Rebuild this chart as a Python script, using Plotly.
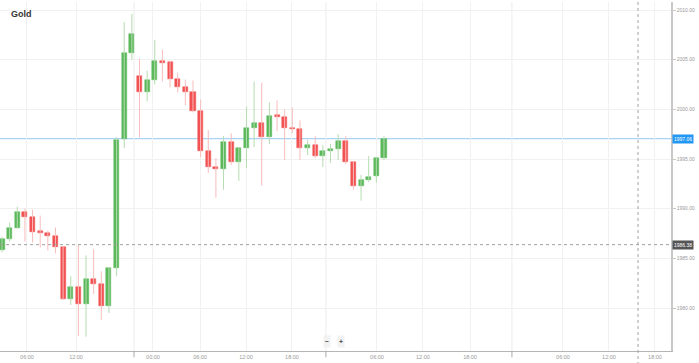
import plotly.graph_objects as go

# ---- data (hourly Gold candles) ----
opens = [1985.8, 1986.9, 1988.1, 1989.7, 1989.2, 1987.8, 1987.6, 1987.2, 1986.1, 1980.9,
         1982.1, 1980.4, 1982.9, 1982.4, 1980.2, 1984.0, 1997.0, 2005.7, 2003.4, 2001.7,
         2003.0, 2004.9, 2004.8, 2003.1, 2002.3, 2001.7, 1999.8, 1995.8, 1994.2, 1994.0,
         1996.7, 1994.7, 1996.1, 1998.1, 1998.6, 1997.2, 1999.4, 1999.2, 1998.1, 1998.0,
         1996.1, 1996.4, 1995.3, 1995.8, 1996.0, 1996.8, 1994.7, 1992.3, 1992.9, 1993.3,
         1995.1]
highs = [1987.2, 1988.6, 1990.2, 1990.0, 1989.9, 1989.3, 1987.8, 1988.1, 1986.2, 1983.2,
         1986.4, 1985.3, 1985.9, 1983.7, 1984.1, 1997.2, 2008.8, 2009.6, 2005.1, 2003.9,
         2007.0, 2006.0, 2004.9, 2003.7, 2003.0, 2002.9, 2001.0, 1997.9, 1995.1, 1997.3,
         1997.6, 1996.2, 2000.3, 2002.8, 2002.7, 2000.7, 2000.9, 2000.0, 2000.2, 1998.9,
         1996.9, 1997.3, 1996.4, 1996.5, 1997.5, 1997.3, 1994.8, 1993.4, 1995.3, 1995.2,
         1997.3]
lows = [1985.6, 1986.7, 1988.0, 1986.7, 1986.6, 1986.1, 1985.8, 1985.5, 1980.8, 1980.3,
        1977.2, 1977.1, 1981.4, 1978.8, 1979.5, 1983.2, 1996.1, 2005.0, 1997.2, 2000.8,
        2002.5, 2002.8, 2002.2, 2001.7, 2000.4, 1999.7, 1995.2, 1993.6, 1991.1, 1991.9,
        1994.4, 1992.8, 1994.1, 1996.2, 1992.3, 1996.5, 1997.8, 1994.9, 1997.6, 1994.9,
        1995.4, 1995.1, 1994.2, 1994.6, 1994.9, 1994.5, 1991.9, 1990.8, 1992.7, 1992.6,
        1994.9]
closes = [1986.9, 1988.1, 1989.7, 1989.2, 1987.7, 1987.6, 1987.2, 1986.1, 1980.9, 1982.1,
          1980.4, 1982.9, 1982.4, 1980.2, 1984.0, 1996.9, 2005.7, 2007.6, 2001.7, 2003.0,
          2004.9, 2004.7, 2003.1, 2002.3, 2001.7, 1999.8, 1995.8, 1994.2, 1994.0, 1996.7,
          1994.7, 1996.1, 1998.1, 1998.6, 1997.2, 1999.3, 1999.2, 1998.1, 1998.0, 1996.1,
          1996.4, 1995.3, 1995.8, 1996.0, 1996.8, 1994.7, 1992.3, 1992.9, 1993.2, 1995.1,
          1997.0]

# axis labels (positions in candle-index units)
hour_tick_pos = [3.27, 9.69, 19.76, 25.92, 31.94, 37.96, 49.08, 55.10, 61.26, 73.43, 79.45, 85.47]
hour_tick_text = ["06:00", "12:00", "00:00", "06:00", "12:00", "18:00",
                  "06:00", "12:00", "18:00", "06:00", "12:00", "18:00"]
day_sep_pos = [17.28, 42.40, 66.75]
day_sep_text = ["30/10", "31/10", "Nov 01"]
y_ticks = [1980, 1985, 1990, 1995, 2000, 2005, 2010]
last_price = 1997.06
marker_price = 1986.38
crosshair_pos = 83.25

GREEN = "#5cb85c"
RED = "#f25252"
GREEN_W = "#b5dcb0"
RED_W = "#f8bcbc"

idx = list(range(len(opens)))
up = [c >= o for o, c in zip(opens, closes)]

fig = go.Figure()

# wicks
for is_up, col in [(True, GREEN_W), (False, RED_W)]:
    xs, ys = [], []
    for i in idx:
        if up[i] == is_up:
            xs += [i, i, None]
            ys += [lows[i], highs[i], None]
    fig.add_trace(go.Scatter(x=xs, y=ys, mode="lines", line=dict(color=col, width=1),
                             hoverinfo="skip", showlegend=False))

# bodies
for is_up, col in [(True, GREEN), (False, RED)]:
    bx, bb, bh = [], [], []
    for i in idx:
        if up[i] == is_up:
            bx.append(i)
            lo = min(opens[i], closes[i])
            bb.append(lo)
            bh.append(max(abs(closes[i] - opens[i]), 0.12))
    fig.add_trace(go.Bar(x=bx, y=bh, base=bb, width=0.66,
                         marker=dict(color=col, line=dict(color=col, width=0.5)),
                         showlegend=False, hoverinfo="skip"))

shapes = []
# last price line
shapes.append(dict(type="line", xref="paper", x0=0, x1=1, yref="y", y0=last_price, y1=last_price,
                   line=dict(color="#a9d3f3", width=1.2), layer="below"))
# marker dotted line
shapes.append(dict(type="line", xref="paper", x0=0, x1=1, yref="y", y0=marker_price, y1=marker_price,
                   line=dict(color="#a0a0a0", width=1, dash="dot")))
# crosshair vertical
shapes.append(dict(type="line", xref="x", x0=crosshair_pos, x1=crosshair_pos, yref="paper", y0=-0.04, y1=1,
                   line=dict(color="#a0a0a0", width=1, dash="dot")))
# day separators
for p in day_sep_pos:
    shapes.append(dict(type="line", xref="x", x0=p, x1=p, yref="paper", y0=0, y1=1,
                       line=dict(color="#ececec", width=1), layer="below"))
    shapes.append(dict(type="line", xref="x", x0=p, x1=p, yref="paper", y0=-0.018, y1=0,
                       line=dict(color="#aaaaaa", width=1)))

annotations = [
    dict(text="<b>Gold</b>", xref="paper", yref="paper", x=0.013, y=0.985, xanchor="left", yanchor="top",
         showarrow=False, font=dict(size=9, color="#333333", family="Liberation Sans")),
    dict(text=f"{last_price:.2f}", xref="paper", yref="y", x=1.002, y=last_price, xanchor="left",
         yanchor="middle", showarrow=False, bgcolor="#2196f3", borderpad=1,
         font=dict(size=5, color="white", family="Liberation Sans")),
    dict(text=f"{marker_price:.2f}", xref="paper", yref="y", x=1.002, y=marker_price, xanchor="left",
         yanchor="middle", showarrow=False, bgcolor="#555555", borderpad=1,
         font=dict(size=5, color="white", family="Liberation Sans")),
    dict(text="<b>−</b>", xref="paper", yref="paper", x=0.4875, y=0.027, xanchor="center", yanchor="middle",
         showarrow=False, bgcolor="#f2f2f2", borderpad=1, font=dict(size=7, color="#444")),
    dict(text="<b>+</b>", xref="paper", yref="paper", x=0.508, y=0.027, xanchor="center", yanchor="middle",
         showarrow=False, bgcolor="#f2f2f2", borderpad=1, font=dict(size=7, color="#444")),
]
for p, t in zip(day_sep_pos, day_sep_text):
    annotations.append(dict(text=t, xref="x", yref="paper", x=p, y=-0.03, xanchor="center", yanchor="top",
                            showarrow=False, font=dict(size=5, color="#999999", family="Liberation Sans")))

fig.update_layout(
    width=699, height=363,
    margin=dict(l=0, r=28, t=2, b=12),
    paper_bgcolor="white", plot_bgcolor="white",
    bargap=0, barmode="overlay",
    shapes=shapes, annotations=annotations,
    showlegend=False,
    xaxis=dict(range=[-0.26, 87.57], tickvals=hour_tick_pos, ticktext=hour_tick_text,
               showgrid=True, gridcolor="#f1f1f1", gridwidth=1, zeroline=False,
               showline=True, linecolor="#b5b5b5", linewidth=1, ticks="", ticklen=0,
               tickfont=dict(size=5.5, color="#9a9a9a", family="Liberation Sans")),
    yaxis=dict(range=[1975.67, 2010.81], side="right", tickvals=y_ticks,
               ticktext=[f"{v:.2f}" for v in y_ticks],
               showgrid=True, gridcolor="#f1f1f1", gridwidth=1, zeroline=False,
               showline=True, linecolor="#c8c8c8", linewidth=1.5, mirror=False,
               ticks="outside", ticklen=3, tickcolor="#c8c8c8", automargin=False,
               tickfont=dict(size=5, color="#9a9a9a", family="Liberation Sans")),
)

fig.write_html("out.html", config={"displayModeBar": False},
               post_script="document.body.style.margin='0';document.body.style.overflow='hidden';")
